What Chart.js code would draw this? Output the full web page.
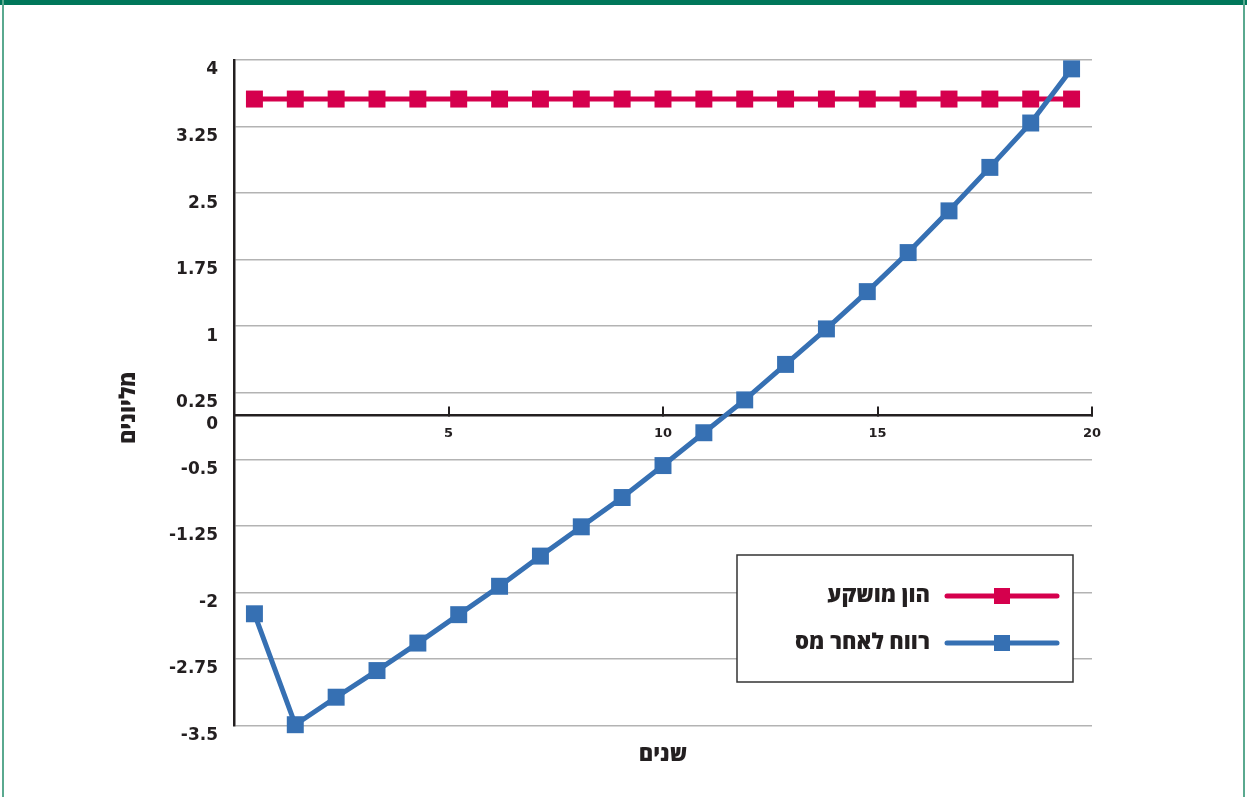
<!DOCTYPE html>
<html lang="he">
<head>
<meta charset="utf-8">
<title>הון מושקע ורווח לאחר מס</title>
<script src="https://cdn.jsdelivr.net/npm/chart.js@4.4.1/dist/chart.umd.min.js"></script>
<style>
  html, body { margin: 0; padding: 0; background: #ffffff; }
  #wrap { position: relative; width: 1247px; height: 797px; overflow: hidden; background: #ffffff; }
  #chart { position: absolute; left: 0; top: 0; }
  .frame-top { position: absolute; left: 0; top: 0; width: 1247px; height: 5px; background: #00775a; }
  .frame-side { position: absolute; top: 0; width: 2px; height: 797px; background: #5aa98f; }
</style>
</head>
<body>
<div id="wrap">
  <canvas id="chart" width="1247" height="797"></canvas>
  <div class="frame-top"></div>
  <div class="frame-side" style="left:2px"></div>
  <div class="frame-side" style="left:1243px"></div>
</div>
<script>
// Yearly slots (21 points along the horizontal axis)
const years = ['1', '2', '3', '4', '5', '6', '7', '8', '9', '10', '11',
               '12', '13', '14', '15', '16', '17', '18', '19', '20', '21'];

// Invested capital, millions
const investedCapital = [3.56, 3.56, 3.56, 3.56, 3.56, 3.56, 3.56, 3.56, 3.56, 3.56, 3.56,
                         3.56, 3.56, 3.56, 3.56, 3.56, 3.56, 3.56, 3.56, 3.56, 3.56];

// Cumulative after-tax profit, millions
const afterTaxProfit = [-2.24, -3.49, -3.18, -2.88, -2.57, -2.25, -1.93, -1.59, -1.26, -0.93, -0.57,
                        -0.2, 0.17, 0.57, 0.97, 1.39, 1.83, 2.3, 2.79, 3.29, 3.9];

// Axis ticks
const yTickValues = [4, 3.25, 2.5, 1.75, 1, 0.25, 0, -0.5, -1.25, -2, -2.75, -3.5];
const xTickValues = [5, 10, 15, 20];

// Texts
const seriesNames = ['הון מושקע', 'רווח לאחר מס'];
const xTitle = 'שנים';
const yTitle = 'מליונים';

const DARK = '#231f20';
const GRID = '#b3b3b3';
const RED = '#d5004d';
const BLUE = '#3670b3';
const HEB = '"Open Sans", sans-serif';
const HEB_FONT = '800 22px ' + HEB;

Chart.defaults.font.family = '"DejaVu Sans", sans-serif';
Chart.defaults.color = DARK;

// Rotated y-axis title and the boxed legend inside the plot
const sideText = {
  id: 'sideText',
  afterDraw(chart) {
    const { ctx, chartArea } = chart;

    ctx.save();
    ctx.translate(chartArea.left - 105, (chartArea.top + chartArea.bottom) / 2 + 15);
    ctx.rotate(-Math.PI / 2);
    ctx.font = HEB_FONT;
    ctx.fillStyle = DARK;
    ctx.textAlign = 'center';
    ctx.textBaseline = 'middle';
    ctx.direction = 'rtl';
    ctx.fillText(yTitle, 0, 0);
    ctx.restore();

    const bx = chartArea.left + 503, by = chartArea.top + 495, bw = 336, bh = 127;
    ctx.save();
    ctx.fillStyle = '#ffffff';
    ctx.fillRect(bx, by, bw, bh);
    ctx.strokeStyle = '#333333';
    ctx.lineWidth = 1.5;
    ctx.strokeRect(bx, by, bw, bh);

    chart.data.datasets.forEach((ds, i) => {
      const rowY = by + 41 + i * 47;
      const x1 = bx + 210, x2 = bx + 320, mid = (x1 + x2) / 2;
      ctx.strokeStyle = ds.borderColor;
      ctx.lineWidth = 5;
      ctx.lineCap = 'round';
      ctx.beginPath();
      ctx.moveTo(x1, rowY);
      ctx.lineTo(x2, rowY);
      ctx.stroke();
      ctx.fillStyle = ds.borderColor;
      ctx.fillRect(mid - 8, rowY - 8, 16, 16);

      ctx.font = HEB_FONT;
      ctx.fillStyle = DARK;
      ctx.textAlign = 'right';
      ctx.textBaseline = 'middle';
      ctx.direction = 'rtl';
      ctx.fillText(ds.label, bx + 193, rowY);
    });
    ctx.restore();
  }
};

new Chart(document.getElementById('chart'), {
  type: 'line',
  data: {
    labels: years,
    datasets: [
      {
        label: seriesNames[0],
        data: investedCapital,
        borderColor: RED,
        backgroundColor: RED,
        pointBackgroundColor: RED,
        order: 1
      },
      {
        label: seriesNames[1],
        data: afterTaxProfit,
        borderColor: BLUE,
        backgroundColor: BLUE,
        pointBackgroundColor: BLUE,
        order: 0
      }
    ]
  },
  options: {
    responsive: false,
    devicePixelRatio: 1,
    animation: false,
    layout: { padding: { left: 0, right: 155, top: 60, bottom: 0 } },
    datasets: {
      line: {
        xAxisID: 'x',
        yAxisID: 'y',
        borderWidth: 5,
        tension: 0,
        fill: false,
        pointStyle: 'rect',
        pointRadius: 12,
        pointHoverRadius: 12,
        pointBorderWidth: 0,
        clip: false
      }
    },
    plugins: {
      legend: { display: false },
      tooltip: { enabled: false }
    },
    scales: {
      x: {
        type: 'category',
        position: 'bottom',
        offset: true,
        ticks: { display: false },
        grid: { display: false, drawTicks: false },
        border: { display: false },
        title: {
          display: true,
          text: xTitle,
          color: DARK,
          font: { family: HEB, size: 22, weight: '800' },
          padding: { top: 16, bottom: 29 }
        }
      },
      x2: {
        type: 'linear',
        axis: 'x',
        position: { y: 0 },
        min: 0,
        max: 20,
        afterBuildTicks: s => { s.ticks = xTickValues.map(v => ({ value: v })); },
        afterFit: s => { s.height = 0; },
        grid: { drawOnChartArea: false, drawTicks: true, tickLength: -10, color: DARK, lineWidth: 2 },
        border: { display: true, color: DARK, width: 2.5 },
        ticks: { padding: 21, autoSkip: false, maxRotation: 0, color: DARK, font: { size: 13, weight: 'bold' } }
      },
      y: {
        type: 'linear',
        position: 'left',
        min: -3.5,
        max: 4,
        afterBuildTicks: s => { s.ticks = yTickValues.map(v => ({ value: v })); },
        afterFit: s => { s.width = 234; },
        grid: {
          color: c => (c.tick && c.tick.value === 0 ? 'rgba(0,0,0,0)' : GRID),
          lineWidth: 1.5,
          drawTicks: false
        },
        border: { display: true, color: DARK, width: 2.5 },
        ticks: {
          padding: 16,
          labelOffset: 10,
          autoSkip: false,
          color: DARK,
          font: { size: 17, weight: 'bold' },
          callback: v => String(v)
        }
      }
    }
  },
  plugins: [sideText]
});
</script>
</body>
</html>
